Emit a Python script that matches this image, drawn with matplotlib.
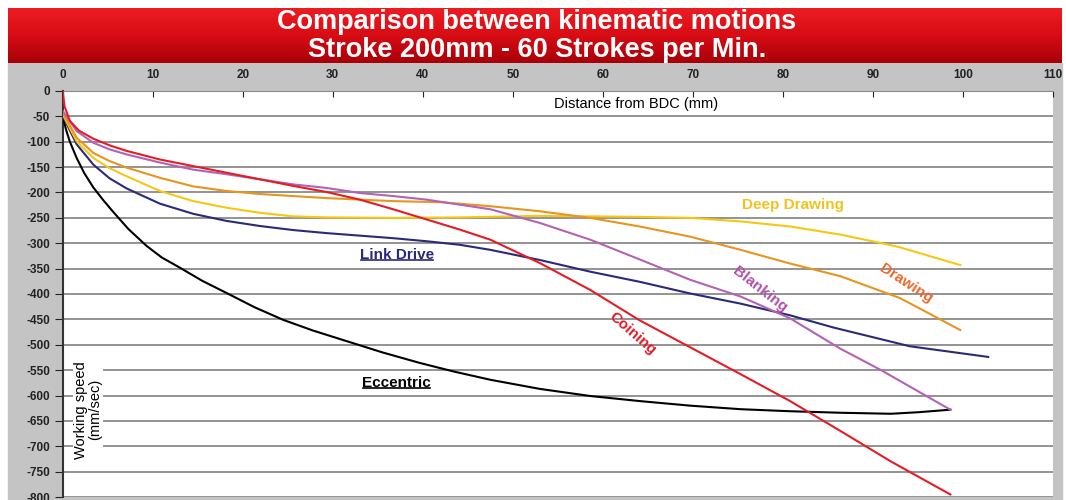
import numpy as np
import matplotlib.pyplot as plt
from matplotlib.colors import LinearSegmentedColormap
from matplotlib.patches import Rectangle
from matplotlib.lines import Line2D

plt.rcParams['font.family'] = ['Liberation Sans', 'DejaVu Sans']
plt.rcParams['axes.unicode_minus'] = False

# series (distance from BDC in mm, working speed in mm/sec)
ecc_x = [0, 0.4, 0.8, 1.55, 2.4, 3.4, 4.5, 5.6, 7.3, 9.3, 11, 13, 15.5, 18.2, 21.3, 24.5, 27.8, 31.2, 35.5, 39.7, 43.5, 47.5, 53, 58.6, 64.1, 69.7, 75.3, 80.8, 86.4, 92, 95, 98.6]
ecc_y = [-50, -78, -100, -132, -162, -190, -215, -238, -272, -305, -328, -348, -374, -398, -426, -451, -472, -491, -515, -536, -553, -569, -587, -601, -611, -620, -627, -631, -634, -636, -633, -628]

link_x = [0, 1.55, 3.4, 5.2, 7.1, 10.8, 14.5, 18.2, 21.9, 25.6, 29.3, 33, 36.7, 40.4, 44.1, 47.5, 53, 58.6, 64.1, 69.7, 75.3, 80.8, 85.6, 94.1, 102.8]
link_y = [-49, -105, -145, -172, -192, -222, -242, -256, -266, -274, -280, -285, -290, -296, -303, -313, -333, -356, -376, -399, -419, -442, -466, -503, -524]

deep_x = [0, 1.55, 3.4, 5.2, 7.1, 10.8, 14.5, 18.2, 21.9, 25.6, 29.3, 36.7, 44.1, 53, 64.1, 69.7, 75.3, 80.8, 86.4, 91, 93, 99.7]
deep_y = [-46, -99, -132, -152, -168, -197, -217, -230, -240, -247, -249, -250, -249, -246, -248, -250, -257, -267, -283, -300, -308, -343]

draw_x = [0, 1.55, 3.4, 5.2, 7.1, 10.8, 14.5, 18.2, 21.9, 25.6, 29.3, 33, 36.7, 41.9, 47.5, 53, 58.6, 64.1, 69.7, 75.3, 80.8, 86.4, 93, 99.7]
draw_y = [-43, -92, -122, -138, -151, -171, -188, -197, -203, -207, -211, -214, -217, -219, -227, -237, -250, -267, -287, -313, -340, -365, -408, -471]

blank_x = [0, 1.55, 3.4, 5.2, 7.1, 10.8, 14.5, 18.2, 21.9, 25.6, 29.3, 33, 36.7, 40.4, 44.1, 47.5, 53, 58.6, 64.1, 69.7, 75.3, 80.8, 86.4, 90.8, 98.6]
blank_y = [-39, -79, -102, -115, -125, -141, -155, -164, -174, -184, -191, -201, -207, -214, -224, -233, -260, -293, -332, -372, -405, -448, -508, -549, -628]

coin_x = [0, 0.2, 0.8, 1.8, 3.4, 5.2, 7.1, 10.8, 14.5, 18.2, 21.9, 25.6, 29.3, 33, 36.7, 40.4, 44.1, 47.5, 53, 58.6, 64.1, 69.7, 75.3, 80.8, 86.4, 92, 98.6]
coin_y = [0, -30, -59, -78, -94, -107, -118, -135, -148, -161, -174, -187, -199, -214, -233, -253, -273, -293, -339, -392, -452, -505, -558, -611, -670, -730, -795]

x_ticks = list(range(0, 111, 10))
y_ticks = list(range(-800, 1, 50))

W, H = 1066, 500


def px(x0, y0, x1, y1):
    return [x0 / W, 1 - y1 / H, (x1 - x0) / W, (y1 - y0) / H]


fig = plt.figure(figsize=(W / 100, H / 100), dpi=100, facecolor='white')

# grey panel behind the chart
fig.add_artist(Rectangle((8 / W, 0), 1054 / W, 437 / H, transform=fig.transFigure,
                         color='#c4c4c4', zorder=0))

# red title banner
ban = fig.add_axes(px(8, 8, 1062, 63))
cmap = LinearSegmentedColormap.from_list('ban', ['#ec1c22', '#d80c14', '#a80008'])
ban.imshow(np.linspace(0, 1, 100).reshape(-1, 1), aspect='auto', cmap=cmap, extent=[0, 1, 0, 1])
ban.axis('off')
fig.text(537 / W, 1 - 22 / H, 'Comparison between kinematic motions', color='white',
         fontsize=19.5, fontweight='bold', ha='center', va='center')
fig.text(537 / W, 1 - 50 / H, 'Stroke 200mm - 60 Strokes per Min.', color='white',
         fontsize=19.5, fontweight='bold', ha='center', va='center')

ax = fig.add_axes(px(62.7, 91, 1053, 497))
ax.set_facecolor('white')
ax.set_xlim(0, 110)
ax.set_ylim(-800, 0)

for yv in y_ticks[:-1]:
    ax.axhline(yv, color='#8a8a8a', lw=1.3, zorder=1)

lw = 1.5
ax.plot(ecc_x, ecc_y, color='black', lw=lw, zorder=3)
ax.plot(link_x, link_y, color='#2a2a78', lw=lw, zorder=3)
ax.plot(deep_x, deep_y, color='#f5c814', lw=lw, zorder=3)
ax.plot(draw_x, draw_y, color='#e8941e', lw=lw, zorder=3)
ax.plot(blank_x, blank_y, color='#b462b4', lw=lw, zorder=3)
ax.plot(coin_x, coin_y, color='#e41c24', lw=lw, zorder=4)

ax.xaxis.tick_top()
ax.set_xticks(x_ticks)
ax.set_yticks(y_ticks)
ax.tick_params(axis='x', direction='in', length=4, pad=7, labelsize=8.5, colors='#222222')
ax.tick_params(axis='y', direction='out', length=6, pad=3, labelsize=8.5, colors='#222222')
for lab in ax.get_xticklabels() + ax.get_yticklabels():
    lab.set_fontweight('bold')
ax.spines['left'].set_color('#333333')
ax.spines['left'].set_linewidth(1.5)
ax.spines['top'].set_color('#8a8a8a')
ax.spines['right'].set_visible(False)
ax.spines['bottom'].set_visible(False)

ax.text(63.7, -26, 'Distance from BDC (mm)', fontsize=10.5, ha='center', va='center', color='black')
ax.text(2.8, -628, 'Working speed\n(mm/sec)', fontsize=10.5, rotation=90, ha='center', va='center',
        linespacing=0.95, bbox=dict(fc='white', ec='none', pad=1), zorder=5)

ax.text(81.1, -225, 'Deep Drawing', color='#f0c420', fontsize=11, fontweight='bold', ha='center', va='center')
ax.text(93.7, -380, 'Drawing', color='#e8682a', fontsize=11, fontweight='bold', ha='center', va='center',
        rotation=-33, rotation_mode='anchor')
ax.text(77.4, -392, 'Blanking', color='#b050a8', fontsize=11, fontweight='bold', ha='center', va='center',
        rotation=-38, rotation_mode='anchor')
ax.text(63.3, -477, 'Coining', color='#e01a22', fontsize=11, fontweight='bold', ha='center', va='center',
        rotation=-41, rotation_mode='anchor')
t_link = ax.text(37.1, -323, 'Link Drive', color='#2a2a78', fontsize=11, fontweight='bold', ha='center', va='center')
t_ecc = ax.text(37.1, -575, 'Eccentric', color='black', fontsize=11, fontweight='bold', ha='center', va='center')

# underline the two labels
fig.canvas.draw()
for t in (t_link, t_ecc):
    bb = t.get_window_extent()
    fig.add_artist(Line2D([bb.x0 + 1, bb.x1 - 1], [bb.y0 + 1.5, bb.y0 + 1.5], transform=None,
                          color=t.get_color(), lw=1.2))

fig.savefig('out.png', dpi=100, facecolor=fig.get_facecolor())
